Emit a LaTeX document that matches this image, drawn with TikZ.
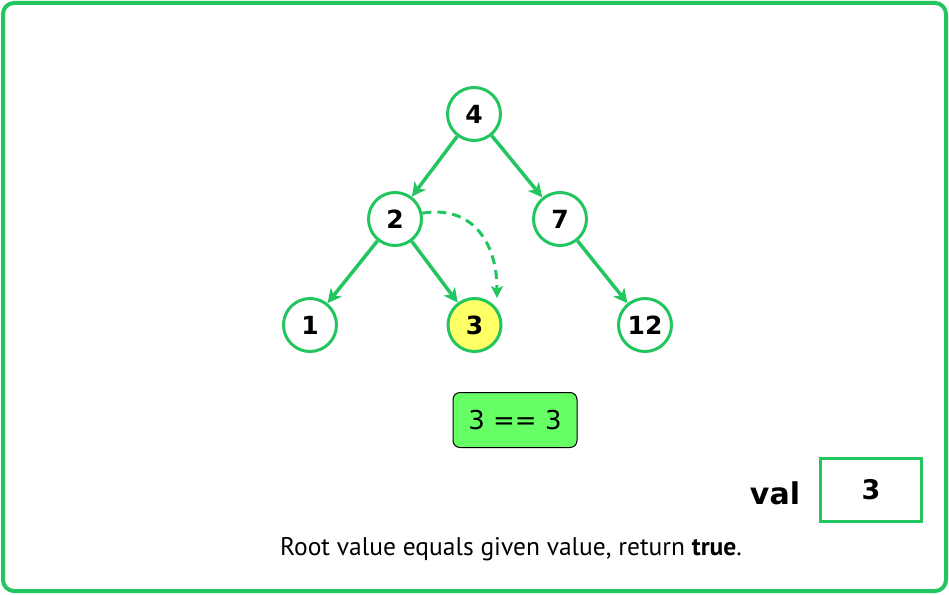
\documentclass[tikz,border=0pt]{standalone}
\usepackage{fontspec}
\setmainfont{DejaVu Sans}
\newfontfamily\notefont{PT Sans}
\usetikzlibrary{arrows.meta, positioning, calc}
\definecolor{treegreen}{RGB}{34,197,94}
\definecolor{hityellow}{RGB}{255,255,102}
\definecolor{okgreen}{RGB}{102,255,102}

\begin{document}
\begin{tikzpicture}[x=1pt, y=-1pt,
  treenode/.style={circle, draw=treegreen, line width=3pt, fill=white, minimum size=53pt, inner sep=0pt, font=\fontsize{25}{30}\selectfont\bfseries},
  treeedge/.style={treegreen, line width=3.5pt, -{Stealth[length=14pt, width=14pt, inset=4pt]}}]
  \useasboundingbox (0,0) rectangle (949,594);
  % frame
  \fill[white] (0,0) rectangle (949,594);
  \draw[treegreen, line width=4pt, rounded corners=11pt] (3,3) rectangle (946,591);
  % tree
  \node[treenode] (n4) at (474,114) {4};
  \node[treenode] (n2) at (395,219) {2};
  \node[treenode] (n7) at (560,219) {7};
  \node[treenode] (n1) at (310,325) {1};
  \node[treenode, fill=hityellow] (n3) at (474.5,325) {3};
  \node[treenode] (n12) at (645,325) {12};
  \draw[treeedge] (n4) -- (n2);
  \draw[treeedge] (n4) -- (n7);
  \draw[treeedge] (n2) -- (n1);
  \draw[treeedge] (n2) -- (n3);
  \draw[treeedge] (n7) -- (n12);
  % search path
  \coordinate (dtip) at (497,298);
  \draw[treegreen, line width=3pt, dash pattern=on 9pt off 6pt, -{Stealth[length=12pt, width=12pt, inset=3pt]}]
    (n2.12) .. controls +(48,-8) and +(0,-58) .. (dtip);
  % comparison
  \node[draw=black, line width=1pt, fill=okgreen, rounded corners=7pt, minimum width=124pt, minimum height=55pt, font=\fontsize{26}{30}\selectfont] (cmp) at (515,420) {3 == 3};
  % given value
  \node[draw=treegreen, line width=3pt, minimum width=101pt, minimum height=63pt, font=\fontsize{27}{32}\selectfont\bfseries] (valbox) at (871,490) {3};
  \node[anchor=base, font=\fontsize{30}{36}\selectfont\bfseries] (vallabel) at (775,504) {val};
  \node[anchor=base, font=\notefont\fontsize{25.5}{30}\selectfont] (note) at (511,555) {Root value equals given value, return {\bfseries true}.};
\end{tikzpicture}
\end{document}
